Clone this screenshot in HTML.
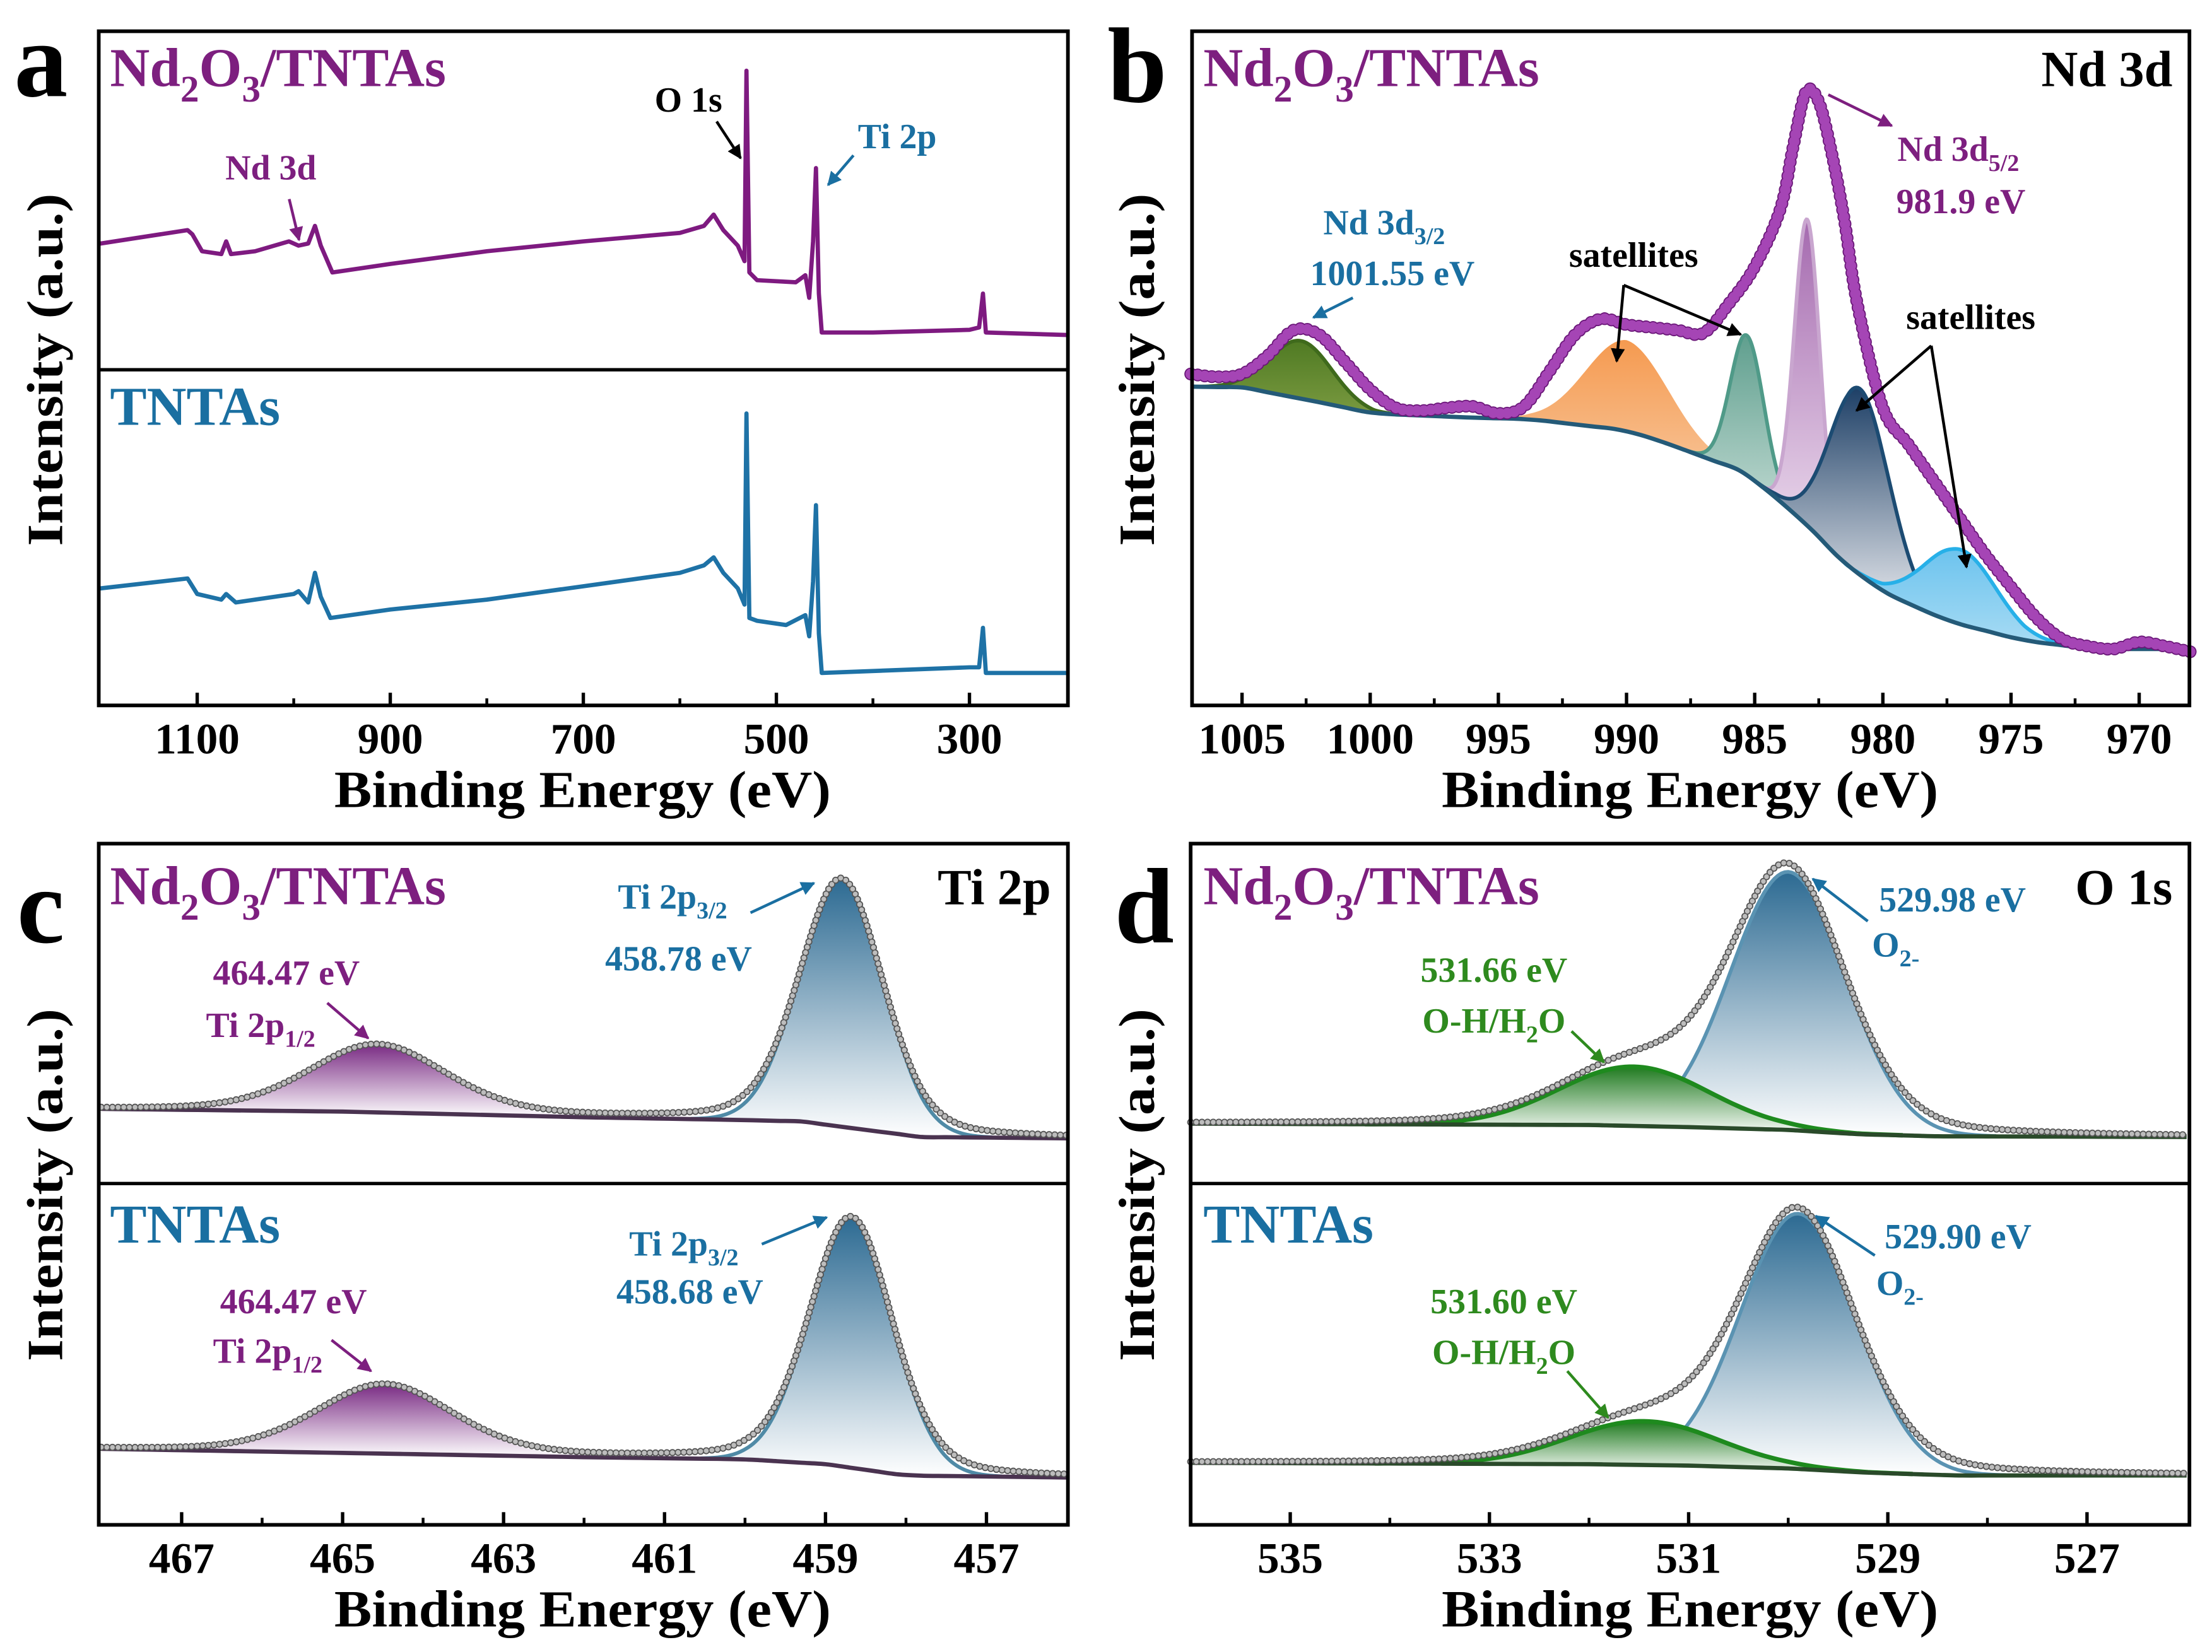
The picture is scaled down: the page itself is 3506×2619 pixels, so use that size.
<!DOCTYPE html>
<html><head><meta charset="utf-8">
<style>
html,body{margin:0;padding:0;background:#fff;}
svg{display:block;}
text{font-family:"Liberation Serif",serif;font-weight:bold;}
</style></head>
<body>
<svg id="chart" xmlns="http://www.w3.org/2000/svg" width="3506" height="2619" viewBox="0 0 1568 1171">
<defs>
<linearGradient id="gBlue" x1="0" y1="0" x2="0" y2="1"><stop offset="0" stop-color="#2c6a92"/><stop offset="1" stop-color="#ffffff"/></linearGradient>
<linearGradient id="gPurple" x1="0" y1="0" x2="0" y2="1"><stop offset="0" stop-color="#7a2c84"/><stop offset="1" stop-color="#ffffff"/></linearGradient>
<linearGradient id="gGreen" x1="0" y1="0" x2="0" y2="1"><stop offset="0" stop-color="#1f7a1f"/><stop offset="1" stop-color="#ffffff"/></linearGradient>
<linearGradient id="gOlive" x1="0" y1="0" x2="0" y2="1"><stop offset="0" stop-color="#4f7a23"/><stop offset="1" stop-color="#7a9a40"/></linearGradient>
<linearGradient id="gOrange" x1="0" y1="0" x2="0" y2="1"><stop offset="0" stop-color="#f59a50"/><stop offset="1" stop-color="#f8c9a0"/></linearGradient>
<linearGradient id="gTeal" x1="0" y1="0" x2="0" y2="1"><stop offset="0" stop-color="#5f9f8e"/><stop offset="1" stop-color="#c6ddd6"/></linearGradient>
<linearGradient id="gLilac" x1="0" y1="0" x2="0" y2="1"><stop offset="0" stop-color="#a56aaf"/><stop offset="1" stop-color="#f1e4f2"/></linearGradient>
<linearGradient id="gNavy" x1="0" y1="0" x2="0" y2="1"><stop offset="0" stop-color="#1d3f66"/><stop offset="1" stop-color="#f4f4f6"/></linearGradient>
<linearGradient id="gSky" x1="0" y1="0" x2="0" y2="1"><stop offset="0" stop-color="#6cc3ee"/><stop offset="1" stop-color="#a9dcf4"/></linearGradient>
<marker id="arK" viewBox="0 0 10 10" refX="9" refY="5" markerWidth="5" markerHeight="5" orient="auto"><path d="M0,0 L10,5 L0,10 z" fill="#000"/></marker>
<marker id="arP" viewBox="0 0 10 10" refX="9" refY="5" markerWidth="5" markerHeight="5" orient="auto"><path d="M0,0 L10,5 L0,10 z" fill="#7d1f7f"/></marker>
<marker id="arB" viewBox="0 0 10 10" refX="9" refY="5" markerWidth="5" markerHeight="5" orient="auto"><path d="M0,0 L10,5 L0,10 z" fill="#1a6fa1"/></marker>
<marker id="arG" viewBox="0 0 10 10" refX="9" refY="5" markerWidth="5" markerHeight="5" orient="auto"><path d="M0,0 L10,5 L0,10 z" fill="#2e8a1e"/></marker>
</defs>
</svg>
<script>
// ===== Panel a: survey spectra (eV, displayed y) =====
const surveyEV = [1202,1200,1110,1105,1095,1075,1070,1065,1040,1005,995,985,978,972,960,900,800,700,600,575,565,555,540,533,531,528,520,480,470,466,462,459,456,453,400,300,290,286,283,198];
const surveyTop = [172,172.5,163,166,178,180,171,180,178,171,174,172.5,160,174,193,187,178,171,165,160,152,163,174,185,50,193,198.5,200,195,211,171,119,208,235.6,235.6,233.7,232,208,235.6,237.4];
const surveyEV2 = [1202,1200,1110,1100,1075,1070,1060,1000,995,985,978,972,962,900,800,700,600,575,565,555,540,533,531,528,520,490,470,466,462,459,456,453,300,290,286,283,198];
const surveyBottom = [417,417,410,421,425,421,427,421,419,427,406,423,438,432,425,415.5,406,400.7,395,406,417,428.5,293,438,440,443,436,451,412,358,449,477,473,473,445,477,477];
const ticksA = [1100,900,700,500,300];
const minorA = [1000,800,600,400];

// ===== Panel b: Nd 3d =====
const ndEV = [1007,1006,1005,1004,1003,1002,1001,1000,999,998,997,996,995,994,993,992,991,990,989,988,987,986,985,984,983.5,983,982.5,982,981.5,981,980,979,978,977,976,975,974,973,972,971,970,969,968];
const ndI = [235,233,235,248,266,263,244,224,211,209,211,212,207,212,237,263,274,270,268,266,264,285,311,352,396,435,428,392,344,285,211,185,159,133,107,84,62,47,42,40,45,42,38];
const ndBgEV = [1007,1005,1002,999.85,996,993.8,990,988.3,985.5,984.2,982.8,981.4,980,978.5,977.3,974.5,971.8,968];
const ndBgI = [226,225.5,215,207,204,203,195,185,166,148,125,99,81,68,59,46,40,40];
const ndCenters = [1002.7,990.0,985.3,982.95,980.9,977.0];
const ndHeights = [41,64,99,217,132,53];
const ndSigmas = [1.2,1.6,0.65,0.5,1.15,1.4];
const ticksB = [1005,1000,995,990,985,980,975,970];

// ===== Panel c: Ti 2p =====
const tiBgEV_top = [468.1,465,462,460,459.3,458.5,457.8,455.9];
const tiBgI_top = [53,51,47,45,44,38,33,32];
const tiBgEV_bot = [468.1,465,462,460,459,458,455.9];
const tiBgI_bot = [54,51,48,46.5,43,35,33.5];
const tiCenters_top = [464.57,458.8];
const tiHeights_top = [48,176];
const tiCenters_bot = [464.48,458.68];
const tiHeights_bot = [49,178];
const tiSigmas = [0.85,0.52];
const ticksC = [467,465,463,461,459,457];

// ===== Panel d: O 1s =====
const oBgEV_top = [536.1,532,531,530,529.3,528.5,525.9];
const oBgI_top = [42.5,41.5,40,38,35,33.5,33];
const oBgEV_bot = [536.1,532,531,530,529.2,528.3,525.9];
const oBgI_bot = [44,43,42,40,37,35,35];
const oCenters_top = [531.55,530.0];
const oHeights_top = [42,183];
const oCenters_bot = [531.45,529.9];
const oHeights_bot = [31,181];
const oSigmas = [0.75,0.58];
const ticksD = [535,533,531,529,527];

const NS = "http://www.w3.org/2000/svg";
const svg = document.getElementById('chart');
function el(tag, attrs, parent){
  const e = document.createElementNS(NS, tag);
  for (const k in attrs) e.setAttribute(k, attrs[k]);
  (parent||svg).appendChild(e);
  return e;
}
function interp(xs, ys, x){
  if (x >= xs[0]) return ys[0];
  for (let i=1;i<xs.length;i++){
    if (x >= xs[i]){ const t=(xs[i-1]-x)/(xs[i-1]-xs[i]); return ys[i-1]+t*(ys[i]-ys[i-1]); }
  }
  return ys[ys.length-1];
}
function gauss(x,c,h,s){ return h*Math.exp(-0.5*((x-c)/s)**2); }
function voigt(x,c,h,s){ const w=s*1.1774; const l=h/(1+((x-c)/w)**2); return 0.75*gauss(x,c,h,s)+0.25*l; }
function pathFrom(pts){ return pts.map((p,i)=>(i?'L':'M')+p[0].toFixed(2)+','+p[1].toFixed(2)).join(''); }
function smoothPath(pts){
  let d='M'+pts[0][0].toFixed(2)+','+pts[0][1].toFixed(2);
  for(let i=0;i<pts.length-1;i++){
    const p0=pts[Math.max(0,i-1)],p1=pts[i],p2=pts[i+1],p3=pts[Math.min(pts.length-1,i+2)];
    const c1=[p1[0]+(p2[0]-p0[0])/6,p1[1]+(p2[1]-p0[1])/6];
    const c2=[p2[0]-(p3[0]-p1[0])/6,p2[1]-(p3[1]-p1[1])/6];
    d+='C'+c1[0].toFixed(2)+','+c1[1].toFixed(2)+' '+c2[0].toFixed(2)+','+c2[1].toFixed(2)+' '+p2[0].toFixed(2)+','+p2[1].toFixed(2);
  }
  return d;
}

function txt(x,y,str,size,color,anchor,name,parent){
  const t = el('text',{x:x,y:y,'font-size':size,fill:color,'text-anchor':anchor||'start'},parent);
  t.textContent = str;
  
  
  return t;
}
function subTxt(x,y,parts,size,color,anchor,name){
  const t = el('text',{x:x,y:y,'font-size':size,fill:color,'text-anchor':anchor||'start'});
  
  
  let sub=false;
  parts.forEach(p=>{
    const s = el('tspan',{},t);
    const isSub = p.startsWith('_');
    const str = isSub?p.slice(1):p;
    if (isSub && !sub){ s.setAttribute('dy', size*0.28); s.setAttribute('font-size', size*0.68); sub=true; }
    else if (!isSub && sub){ s.setAttribute('dy', -size*0.28); sub=false; }
    else if (isSub){ s.setAttribute('font-size', size*0.68); }
    s.textContent = str;
  });
  return t;
}
function arrow(x1,y1,x2,y2,color,marker,name){
  const l = el('line',{x1:x1,y1:y1,x2:x2,y2:y2,stroke:color,'stroke-width':2,'marker-end':'url(#'+marker+')'});
  
  
}
function frame(x0,y0,x1,y1,name){
  const r = el('rect',{x:x0,y:y0,width:x1-x0,height:y1-y0,fill:'none',stroke:'#000','stroke-width':2.6});
  
  
}
function xTicks(xf,majors,minors,yb,name){
  const g = el('g',{});
  
  
  majors.forEach(v=>{
    el('line',{x1:xf(v),x2:xf(v),y1:yb,y2:yb-9,stroke:'#000','stroke-width':2.4},g);
    const t = el('text',{x:xf(v),y:yb+34,'font-size':31,'text-anchor':'middle',fill:'#000'},g);
    t.textContent = v;
  });
  minors.forEach(v=>{ el('line',{x1:xf(v),x2:xf(v),y1:yb,y2:yb-5,stroke:'#000','stroke-width':2},g); });
}
function titles(cx,yb,ycx,ycy,pfx){
  const t = txt(cx,yb+72,'Binding Energy (eV)',37,'#000','middle',pfx+'-x-axis-title');
  t.setAttribute('textLength',352); t.setAttribute('lengthAdjust','spacingAndGlyphs');
  const y = txt(0,0,'Intensity (a.u.)',36,'#000','middle',pfx+'-y-axis-title');
  y.setAttribute('transform','translate('+ycx+','+ycy+') rotate(-90)');
  y.setAttribute('textLength',250); y.setAttribute('lengthAdjust','spacingAndGlyphs');
}
function beads(pts,name,opt){
  const d = opt.smooth ? smoothPath(pts) : pathFrom(pts);
  const g = el('g',{});
  
  
  if (opt.line) el('path',{d:d,fill:'none',stroke:opt.line,'stroke-width':1.2},g);
  el('path',{d:d,fill:'none',stroke:opt.dark,'stroke-width':opt.w+1.6,'stroke-dasharray':'0 '+opt.gap,'stroke-linecap':'round'},g);
  el('path',{d:d,fill:'none',stroke:opt.light,'stroke-width':opt.w,'stroke-dasharray':'0 '+opt.gap,'stroke-linecap':'round'},g);
}
function component(xf,yf,bgX,bgY,c,h,s,fill,stroke,name,sw){
  const pts=[], base=[];
  const lo=c+3.6*s, hi=c-3.6*s;
  for(let i=0;i<=120;i++){ const e=lo+(hi-lo)*i/120; const b=interp(bgX,bgY,e); pts.push([xf(e),yf(b+gauss(e,c,h,s))]); base.push([xf(e),yf(b)]); }
  const poly = pts.concat(base.slice().reverse());
  const a = el('path',{d:pathFrom(poly)+'Z',fill:fill,stroke:'none'});
  
  
  if (stroke){
    const p = el('path',{d:pathFrom(pts),fill:'none',stroke:stroke,'stroke-width':sw||2.6});
    
    
  }
}
function bgLine(xf,yf,bgX,bgY,e0,e1,color,name,w){
  const pts=[];
  for(let i=0;i<=200;i++){ const e=e0+(e1-e0)*i/200; pts.push([xf(e),yf(interp(bgX,bgY,e))]); }
  const p = el('path',{d:smoothPath(pts.filter((q,i)=>i%5==0)),fill:'none',stroke:color,'stroke-width':w||3});
  
  
}
function envelope(xf,yf,bgX,bgY,cs,hs,ss,e0,e1){
  const pts=[];
  for(let i=0;i<=260;i++){ const e=e0+(e1-e0)*i/260; let v=interp(bgX,bgY,e); cs.forEach((c,k)=>v+=voigt(e,c,hs[k],ss[k])); pts.push([xf(e),yf(v)]); }
  return pts;
}

const PURPLE='#7d1f7f', BLUE='#1a6fa1', GREEN='#2e8a1e';
const LBL=25, SAMPLE=39;

// ================= Panel a =================
const xa = e => 70 + (1202-e)*687/1004;
{
  const top = surveyEV.map((e,i)=>[xa(e),surveyTop[i]]);
  const p1 = el('path',{d:pathFrom(top),fill:'none',stroke:'#7e1a80','stroke-width':3,'stroke-linejoin':'round'});
  
  
  const bot = surveyEV2.map((e,i)=>[xa(e),surveyBottom[i]]);
  const p2 = el('path',{d:pathFrom(bot),fill:'none',stroke:'#1e72a6','stroke-width':3,'stroke-linejoin':'round'});
  
  
  const dv = el('line',{x1:70,x2:757,y1:262,y2:262,stroke:'#000','stroke-width':2.4});
  
  
  frame(70,22,757,500,'panel-a-frame');
  xTicks(xa,ticksA,minorA,500,'panel-a-x-ticks');
  titles(413,500,44,262,'panel-a');
  txt(10,68,'a',76,'#000','start','panel-a-letter');
  subTxt(78,61,['Nd','_2','O','_3','/TNTAs'],SAMPLE,PURPLE,'start','panel-a-sample-label');
  txt(78,301,'TNTAs',SAMPLE,BLUE,'start','panel-a-tntas-label');
  txt(192,127,'Nd 3d',LBL,PURPLE,'middle','nd3d-annotation');
  arrow(205,141,212,170,PURPLE,'arP','nd3d-arrow');
  txt(488,79,'O 1s',LBL,'#000','middle','o1s-annotation');
  arrow(508,86,525,112,'#000','arK','o1s-arrow');
  txt(636,105,'Ti 2p',LBL,BLUE,'middle','ti2p-annotation');
  arrow(605,110,587,131,BLUE,'arB','ti2p-arrow');
}

// ================= Panel b =================
const xb = e => 845 + (1006.95-e)*18.17;
const yb = I => 500 - I;
{
  const fills=['url(#gOlive)','url(#gOrange)','url(#gTeal)','url(#gLilac)','url(#gNavy)','url(#gSky)'];
  const strokes=['#3f6a1c',null,'#4f9a88','#c9a6cf','#1c4b72','#27b0e8'];
  const names=['nd3d32-peak','satellite-990-peak','satellite-985-peak','nd3d52-peak','satellite-981-peak','satellite-977-peak'];
  ndCenters.forEach((c,i)=>{ component(xb,yb,ndBgEV,ndBgI,c,ndHeights[i],ndSigmas[i],fills[i],strokes[i],names[i],2.6); });
  bgLine(xb,yb,ndBgEV,ndBgI,1006.9,968.2,'#245a78','nd3d-background',3);
  const pts = ndEV.map((e,i)=>[xb(e),yb(ndI[i])]);
  beads(pts,'nd3d-data-points',{dark:'#6a1778',light:'#a545b5',w:7.5,gap:5,smooth:true});
  frame(845,22,1552,500,'panel-b-frame');
  xTicks(xb,ticksB,[1002.5,997.5,992.5,987.5,982.5,977.5,972.5],500,'panel-b-x-ticks');
  titles(1198,500,818,262,'panel-b');
  txt(785,72,'b',76,'#000','start','panel-b-letter');
  subTxt(853,61,['Nd','_2','O','_3','/TNTAs'],SAMPLE,PURPLE,'start','panel-b-sample-label');
  txt(1540,61,'Nd 3d',36,'#000','end','panel-b-region-label');
  subTxt(938,166,['Nd 3d','_3/2'],LBL,BLUE,'start','nd3d32-label');
  txt(987,202,'1001.55 eV',LBL,BLUE,'middle','nd3d32-energy');
  arrow(959,211,931,225,BLUE,'arB','nd3d32-arrow');
  subTxt(1345,114,['Nd 3d','_5/2'],LBL,PURPLE,'start','nd3d52-label');
  txt(1390,151,'981.9 eV',LBL,PURPLE,'middle','nd3d52-energy');
  arrow(1296,67,1341,89,PURPLE,'arP','nd3d52-arrow');
  txt(1158,189,'satellites',LBL,'#000','middle','satellites-label-1');
  arrow(1151,202,1146,256,'#000','arK','satellites-arrow-1a');
  arrow(1151,202,1234,237,'#000','arK','satellites-arrow-1b');
  txt(1397,233,'satellites',LBL,'#000','middle','satellites-label-2');
  arrow(1369,245,1316,291,'#000','arK','satellites-arrow-2a');
  arrow(1369,245,1394,402,'#000','arK','satellites-arrow-2b');
}

// ================= Panel c =================
const xc = e => 70 + (468.03-e)*57.05;
{
  const sets = [
    {yb:839, bgX:tiBgEV_top, bgY:tiBgI_top, cs:tiCenters_top, hs:tiHeights_top, pfx:'ti2p-nd2o3'},
    {yb:1081, bgX:tiBgEV_bot, bgY:tiBgI_bot, cs:tiCenters_bot, hs:tiHeights_bot, pfx:'ti2p-tntas'}
  ];
  sets.forEach(S=>{
    const yf = I => S.yb - I;
    component(xc,yf,S.bgX,S.bgY,S.cs[0],S.hs[0],tiSigmas[0],'url(#gPurple)',null,S.pfx+'-2p12');
    component(xc,yf,S.bgX,S.bgY,S.cs[1],S.hs[1],tiSigmas[1],'url(#gBlue)','#4f8aa6',S.pfx+'-2p32');
    bgLine(xc,yf,S.bgX,S.bgY,468.0,456.0,'#4a3350',S.pfx+'-background',3);
    beads(envelope(xc,yf,S.bgX,S.bgY,S.cs,S.hs,tiSigmas,468.0,456.0),S.pfx+'-data-points',{line:'#555',dark:'#555',light:'#bdbdbd',w:3.4,gap:4});
  });
  const dv = el('line',{x1:70,x2:757,y1:839,y2:839,stroke:'#000','stroke-width':2.4});
  
  
  frame(70,598,757,1081,'panel-c-frame');
  xTicks(xc,ticksC,[466,464,462,460,458],1081,'panel-c-x-ticks');
  titles(413,1081,44,840,'panel-c');
  txt(12,668,'c',76,'#000','start','panel-c-letter');
  subTxt(78,641,['Nd','_2','O','_3','/TNTAs'],SAMPLE,PURPLE,'start','panel-c-sample-label');
  txt(745,641,'Ti 2p',36,'#000','end','panel-c-region-label');
  txt(78,881,'TNTAs',SAMPLE,BLUE,'start','panel-c-tntas-label');
  subTxt(438,644,['Ti 2p','_3/2'],LBL,BLUE,'start','ti2p32-label-top');
  txt(481,688,'458.78 eV',LBL,BLUE,'middle','ti2p32-energy-top');
  arrow(532,647,577,626,BLUE,'arB','ti2p32-arrow-top');
  txt(203,698,'464.47 eV',LBL,PURPLE,'middle','ti2p12-energy-top');
  subTxt(146,735,['Ti 2p','_1/2'],LBL,PURPLE,'start','ti2p12-label-top');
  arrow(232,711,261,736,PURPLE,'arP','ti2p12-arrow-top');
  subTxt(446,890,['Ti 2p','_3/2'],LBL,BLUE,'start','ti2p32-label-bottom');
  txt(489,924,'458.68 eV',LBL,BLUE,'middle','ti2p32-energy-bottom');
  arrow(540,882,586,863,BLUE,'arB','ti2p32-arrow-bottom');
  txt(208,931,'464.47 eV',LBL,PURPLE,'middle','ti2p12-energy-bottom');
  subTxt(151,966,['Ti 2p','_1/2'],LBL,PURPLE,'start','ti2p12-label-bottom');
  arrow(235,950,263,972,PURPLE,'arP','ti2p12-arrow-bottom');
}

// ================= Panel d =================
const xd = e => 844 + (536.0-e)*70.6;
{
  const sets = [
    {yb:839, bgX:oBgEV_top, bgY:oBgI_top, cs:oCenters_top, hs:oHeights_top, pfx:'o1s-nd2o3'},
    {yb:1081, bgX:oBgEV_bot, bgY:oBgI_bot, cs:oCenters_bot, hs:oHeights_bot, pfx:'o1s-tntas'}
  ];
  sets.forEach(S=>{
    const yf = I => S.yb - I;
    component(xd,yf,S.bgX,S.bgY,S.cs[1],S.hs[1],oSigmas[1],'url(#gBlue)','#5a93b2',S.pfx+'-lattice-oxygen');
    component(xd,yf,S.bgX,S.bgY,S.cs[0],S.hs[0],oSigmas[0],'url(#gGreen)','#1e8a1e',S.pfx+'-hydroxyl',3.2);
    bgLine(xd,yf,S.bgX,S.bgY,536.0,526.0,'#2a4a2a',S.pfx+'-background',3);
    beads(envelope(xd,yf,S.bgX,S.bgY,S.cs,S.hs,oSigmas,536.0,526.0),S.pfx+'-data-points',{line:'#555',dark:'#555',light:'#bdbdbd',w:3.4,gap:4});
  });
  const dv = el('line',{x1:844,x2:1552,y1:839,y2:839,stroke:'#000','stroke-width':2.4});
  
  
  frame(844,598,1552,1081,'panel-d-frame');
  xTicks(xd,ticksD,[534,532,530,528],1081,'panel-d-x-ticks');
  titles(1198,1081,818,840,'panel-d');
  txt(790,668,'d',76,'#000','start','panel-d-letter');
  subTxt(853,641,['Nd','_2','O','_3','/TNTAs'],SAMPLE,PURPLE,'start','panel-d-sample-label');
  txt(1540,641,'O 1s',36,'#000','end','panel-d-region-label');
  txt(853,881,'TNTAs',SAMPLE,BLUE,'start','panel-d-tntas-label');
  txt(1384,646,'529.98 eV',LBL,BLUE,'middle','o-lattice-energy-top');
  subTxt(1327,678,['O','_2-'],LBL,BLUE,'start','o-lattice-label-top');
  arrow(1324,653,1285,623,BLUE,'arB','o-lattice-arrow-top');
  txt(1059,696,'531.66 eV',LBL,GREEN,'middle','oh-energy-top');
  subTxt(1059,732,['O-H/H','_2','O'],LBL,GREEN,'middle','oh-label-top');
  arrow(1114,731,1137,753,GREEN,'arG','oh-arrow-top');
  txt(1388,885,'529.90 eV',LBL,BLUE,'middle','o-lattice-energy-bottom');
  subTxt(1330,918,['O','_2-'],LBL,BLUE,'start','o-lattice-label-bottom');
  arrow(1329,890,1287,862,BLUE,'arB','o-lattice-arrow-bottom');
  txt(1066,931,'531.60 eV',LBL,GREEN,'middle','oh-energy-bottom');
  subTxt(1066,967,['O-H/H','_2','O'],LBL,GREEN,'middle','oh-label-bottom');
  arrow(1111,972,1140,1005,GREEN,'arG','oh-arrow-bottom');
}
</script>
</body></html>
